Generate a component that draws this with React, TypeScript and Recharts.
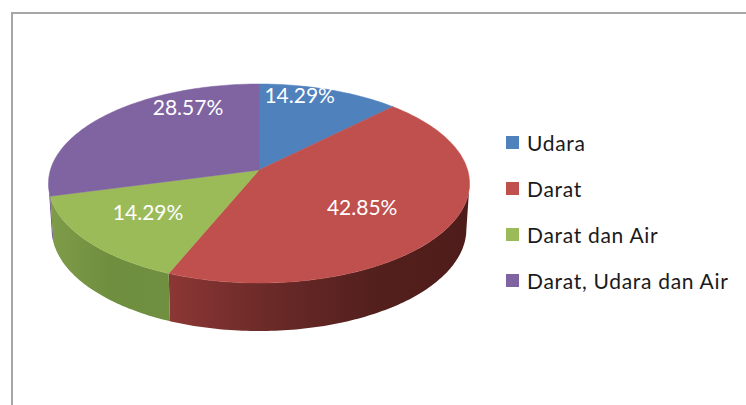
import React from 'react';
import { PieChart, Pie, Legend } from 'recharts';

const categories = ['Udara', 'Darat', 'Darat dan Air', 'Darat, Udara dan Air'];
const shares = [14.29, 42.85, 14.29, 28.57];
const colors = ['#4f81bd', '#c0504d', '#9bbb59', '#8064a2'];
const sideStops = [
    ['#3a5f8c', '#3a5f8c'],
    ['#8c3735', '#6a2a28', '#54201e', '#4e1c1a'],
    ['#7f9c49', '#6f8f3f', '#708f41'],
    ['#5f4a7a', '#5f4a7a'],
];
// nudges to sit the percent labels where excel put them
const labelNudge = [[-7, -17], [-7, -16], [3, -9], [29, -20]];

const chartData = categories.map((name, i) => ({ name, value: shares[i], fill: colors[i] }));

// fake 3d: unit circle -> perspective ellipse around the pie apex
const SCALE_X = 208.6;
const SCALE_Y = 97.67;
const PERSP = 0.1357;
const SQUASH_RIGHT = 0.79;
const SQUASH_LEFT = 0.85;
// clockwise degrees on the drawn rim that are the left/right silhouette
const FRONT_FROM = 98;
const FRONT_TO = 262;

const toRad = (d: number) => (d * Math.PI) / 180;

// clockwise angle of the data -> clockwise angle on the tilted disc
const warp = (deg: number) => {
    const s = Math.sin(toRad(deg));
    const a = (Math.atan2((s < 0 ? SQUASH_LEFT : SQUASH_RIGHT) * s, Math.cos(toRad(deg))) * 180) / Math.PI;
    return a < 0 ? a + 360 : a;
};

const project = (cx: number, cy: number, warped: number, r = 1) => {
    const u = r * Math.sin(toRad(warped));
    const v = r * Math.cos(toRad(warped));
    const d = 1 + PERSP * v;
    return { x: cx + (SCALE_X * u) / d, y: cy - (SCALE_Y * v) / d, v };
};

const lower = (cx: number, p: { x: number; y: number; v: number }) => ({
    x: cx + (p.x - cx) * 0.985,
    y: p.y + 45 + 3 * Math.max(0, -p.v),
});

const SliceShape: React.FC<any> = ({ cx, cy, startAngle, endAngle, fill, index }) => {
    // recharts angles run counter clockwise from 3 o'clock
    let from = 90 - startAngle;
    let to = 90 - endAngle;
    if (to < from) [from, to] = [to, from];
    const a = to >= 359.9 ? 360 : warp(to);
    const b = from <= 0.01 ? 0 : warp(from);

    const top: string[] = [`M${cx},${cy}`];
    for (let t = b; t <= a; t += 1) {
        const p = project(cx, cy, t);
        top.push(`L${p.x.toFixed(1)},${p.y.toFixed(1)}`);
    }
    const end = project(cx, cy, a);
    top.push(`L${end.x.toFixed(1)},${end.y.toFixed(1)}Z`);

    const sFrom = Math.max(b, FRONT_FROM);
    const sTo = Math.min(a, FRONT_TO);
    let side = null;
    if (sTo > sFrom) {
        const rim = [];
        for (let t = sFrom; t < sTo; t += 1) rim.push(project(cx, cy, t));
        rim.push(project(cx, cy, sTo));
        const base = rim.map((p) => lower(cx, p)).reverse();
        const pts = [...rim, ...base].map((p) => `${p.x.toFixed(1)},${p.y.toFixed(1)}`);
        const xs = rim.map((p) => p.x);
        const stops = sideStops[index] ?? [fill, fill];
        const gid = `side-${index}`;
        side = (
            <>
                <defs>
                    <linearGradient id={gid} gradientUnits="userSpaceOnUse" x1={Math.min(...xs)} x2={Math.max(...xs)} y1="0" y2="0">
                        {stops.map((c, i) => (
                            <stop key={i} offset={i / (stops.length - 1)} stopColor={c} />
                        ))}
                    </linearGradient>
                </defs>
                <polygon points={pts.join(' ')} fill={`url(#${gid})`} />
            </>
        );
    }

    return (
        <g>
            {side}
            <path d={top.join('')} fill={fill} stroke={fill} strokeWidth={0.5} />
        </g>
    );
};

const renderLabel = (props: any) => {
    const { cx, cy, midAngle, value, index } = props;
    const p = project(cx, cy, warp(90 - midAngle), 0.7);
    const [dx, dy] = labelNudge[index];
    return (
        <text
            x={p.x + dx}
            y={p.y + dy}
            fill="#ffffff"
            textAnchor="middle"
            dominantBaseline="central"
            fontFamily="Lato, sans-serif"
            fontSize={21}
        >
            {`${value.toFixed(2)}%`}
        </text>
    );
};

const renderLegend = (props: any) => (
    <div>
        {(props.payload ?? []).map((entry: any) => (
            <div key={entry.value} style={{ display: 'flex', alignItems: 'center', height: 45.8 }}>
                <span style={{ width: 13, height: 13, background: entry.color, marginRight: 8, flex: 'none' }} />
                <span style={{ fontFamily: 'Lato, sans-serif', fontSize: 21, letterSpacing: 0.7, color: '#1a1a1a', whiteSpace: 'nowrap' }}>
                    {entry.value}
                </span>
            </div>
        ))}
    </div>
);

export default function App() {
    return (
        <div style={{ position: 'absolute', left: 0, top: 0, width: 746, height: 405, overflow: 'hidden', background: '#fff' }}>
            <div
                style={{
                    position: 'absolute',
                    left: 11,
                    top: 12,
                    right: -4,
                    bottom: -4,
                    borderTop: '2px solid #a6a6a6',
                    borderLeft: '2px solid #a6a6a6',
                }}
            />
            <PieChart width={746} height={405} margin={{ top: 0, right: 0, bottom: 0, left: 0 }} style={{ position: 'absolute', left: 0, top: 0 }}>
                <Pie
                    data={chartData}
                    dataKey="value"
                    nameKey="name"
                    cx={259}
                    cy={170}
                    outerRadius={100}
                    startAngle={90}
                    endAngle={-270}
                    stroke="none"
                    shape={<SliceShape />}
                    label={renderLabel}
                    labelLine={false}
                    isAnimationActive={false}
                />
                <Legend
                    content={renderLegend}
                    itemSorter={null}
                    layout="vertical"
                    wrapperStyle={{ position: 'absolute', left: 506, top: 120, width: 235 }}
                />
            </PieChart>
        </div>
    );
}
